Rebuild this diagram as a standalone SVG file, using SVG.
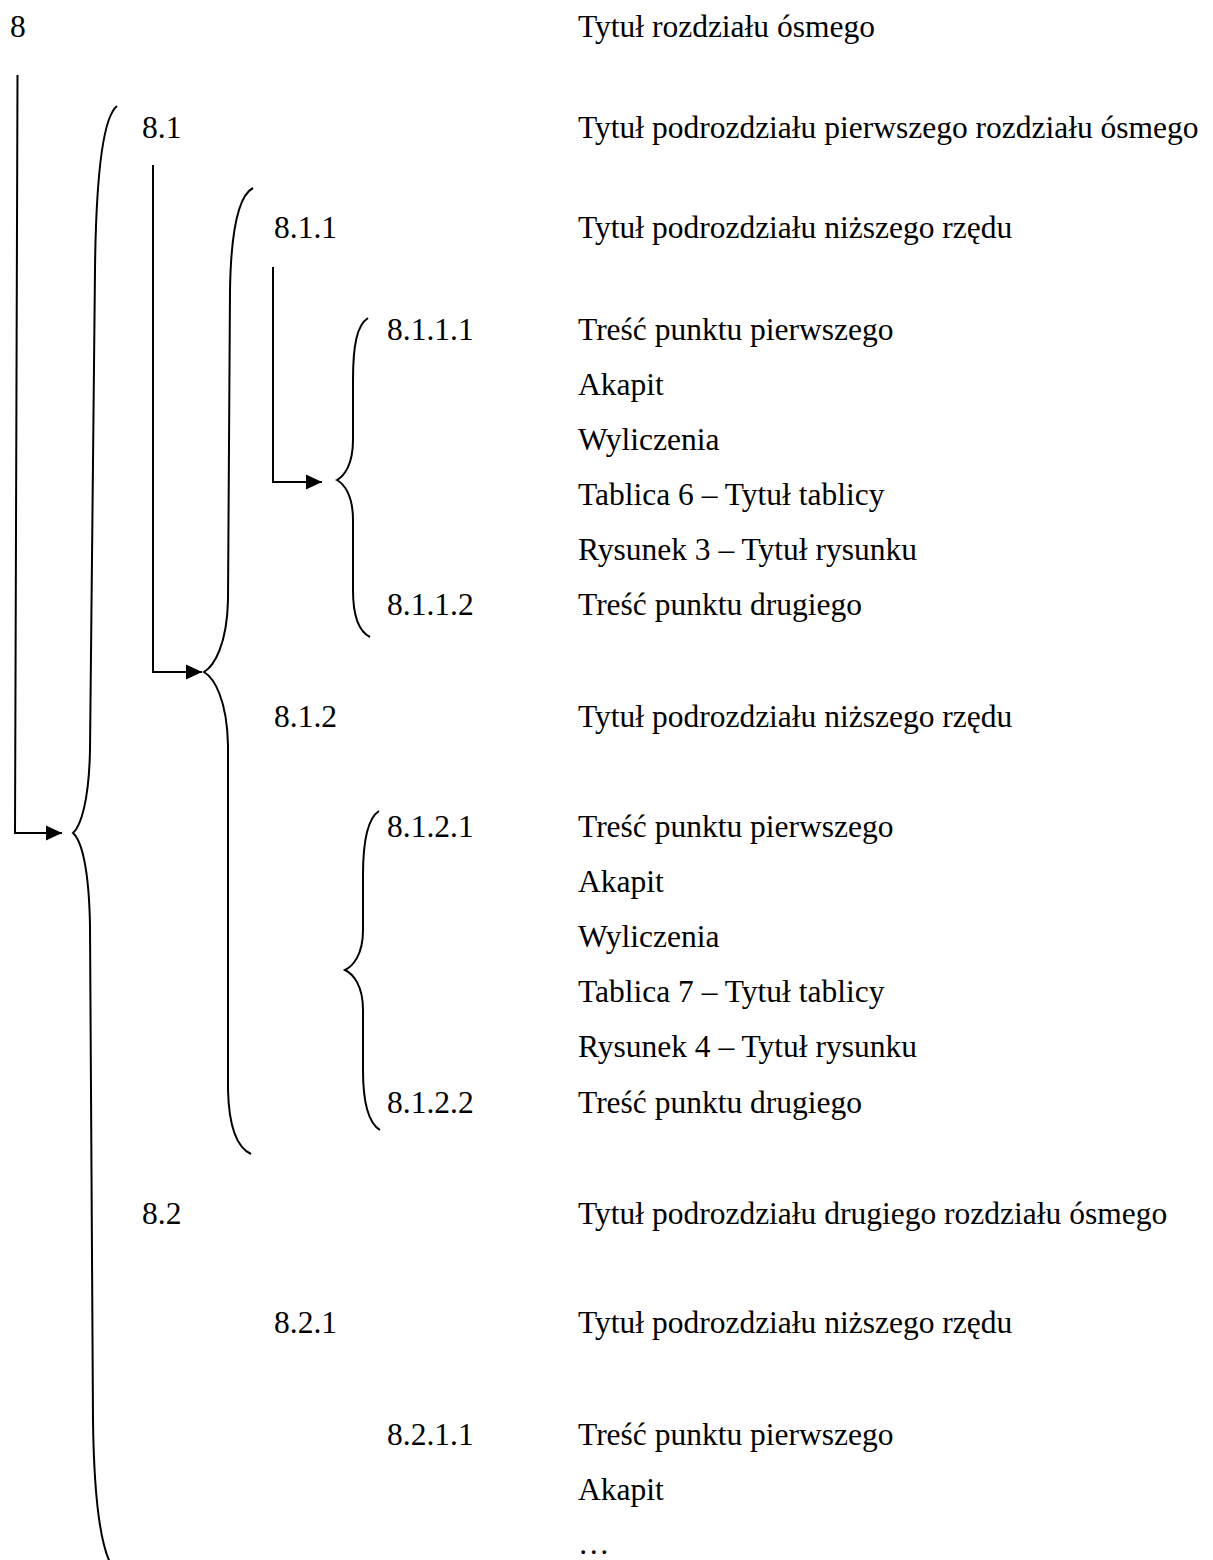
<svg xmlns="http://www.w3.org/2000/svg" width="1213" height="1560" viewBox="0 0 1213 1560">
<defs>
<style>
text{font-family:"Liberation Serif","Times New Roman",serif;font-size:31.5px;fill:#000}
.ln{fill:none;stroke:#000;stroke-width:2}
.br{fill:none;stroke:#000;stroke-width:2}
</style>
<marker id="ah" markerWidth="16" markerHeight="16" viewBox="0 0 16 16" refX="16" refY="8" orient="auto" markerUnits="userSpaceOnUse">
<path d="M0,0.5 L16,8 L0,15.5 Z" fill="#000"/>
</marker>
</defs>
<rect width="1213" height="1560" fill="#fff"/>
<g id="n8"><text x="10" y="37">8</text><text x="578" y="37">Tytuł rozdziału ósmego</text></g>
<g id="n8-1"><text x="142" y="138">8.1</text><text x="578" y="138">Tytuł podrozdziału pierwszego rozdziału ósmego</text></g>
<g id="n8-1-1"><text x="274" y="238">8.1.1</text><text x="578" y="238">Tytuł podrozdziału niższego rzędu</text></g>
<g id="n8-1-1-1"><text x="387" y="340">8.1.1.1</text><text x="578" y="340">Treść punktu pierwszego</text>
<text x="578" y="395">Akapit</text><text x="578" y="450">Wyliczenia</text><text x="578" y="505">Tablica 6 – Tytuł tablicy</text><text x="578" y="560">Rysunek 3 – Tytuł rysunku</text></g>
<g id="n8-1-1-2"><text x="387" y="615">8.1.1.2</text><text x="578" y="615">Treść punktu drugiego</text></g>
<g id="n8-1-2"><text x="274" y="727">8.1.2</text><text x="578" y="727">Tytuł podrozdziału niższego rzędu</text></g>
<g id="n8-1-2-1"><text x="387" y="837">8.1.2.1</text><text x="578" y="837">Treść punktu pierwszego</text>
<text x="578" y="892">Akapit</text><text x="578" y="947">Wyliczenia</text><text x="578" y="1002">Tablica 7 – Tytuł tablicy</text><text x="578" y="1057">Rysunek 4 – Tytuł rysunku</text></g>
<g id="n8-1-2-2"><text x="387" y="1113">8.1.2.2</text><text x="578" y="1113">Treść punktu drugiego</text></g>
<g id="n8-2"><text x="142" y="1224">8.2</text><text x="578" y="1224">Tytuł podrozdziału drugiego rozdziału ósmego</text></g>
<g id="n8-2-1"><text x="274" y="1333">8.2.1</text><text x="578" y="1333">Tytuł podrozdziału niższego rzędu</text></g>
<g id="n8-2-1-1"><text x="387" y="1445">8.2.1.1</text><text x="578" y="1445">Treść punktu pierwszego</text>
<text x="578" y="1500">Akapit</text><text x="578" y="1554">…</text></g>
<g id="connectors">
<path class="ln" d="M17.5,75 L15,833 L62,833" marker-end="url(#ah)"/>
<path class="ln" d="M153,165 L153,672 L202,672" marker-end="url(#ah)"/>
<path class="ln" d="M273,267 L273,482 L322,482" marker-end="url(#ah)"/>
<path class="br" d="M117,106 C102,118 96,180 95,270 L90,750 C89,800 81,826 73,833 C81,840 89,866 90,926 L93,1420 C94,1500 100,1548 113,1568"/>
<path class="br" d="M253,188 C238,196 231,230 230,290 L228,600 C227,645 214,666 204,672 C214,678 227,699 228,745 L228,1090 C229,1130 238,1148 251,1154"/>
<path class="br" d="M368,318 C357,325 353,345 353,380 L353,440 C353,465 344,476 337,480 C344,484 353,495 353,520 L353,590 C353,620 360,632 370,637"/>
<path class="br" d="M379,811 C368,818 363,840 363,875 L363,930 C363,955 353,966 345,970 C353,974 363,985 363,1010 L363,1070 C363,1105 370,1124 380,1130"/>
</g>
</svg>
